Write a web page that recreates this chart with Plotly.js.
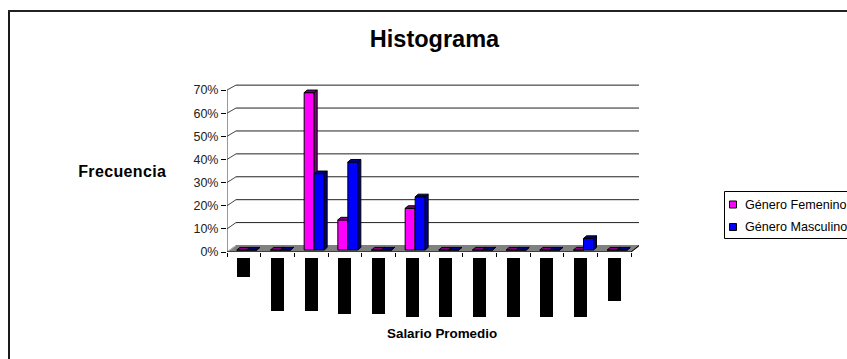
<!DOCTYPE html>
<html>
<head>
<meta charset="utf-8">
<script src="https://cdn.plot.ly/plotly-3.0.1.min.js"></script>
<style>
html,body{margin:0;padding:0;background:#fff;overflow:hidden}
#chart{width:847px;height:359px}
.annotation[data-index="0"] text{letter-spacing:.35px}
</style>
</head>
<body>
<div id="chart"></div>
<script>
// Survey results by salary bracket, share of each gender per bracket
const femenino = [0, 0, 68, 13, 0, 18, 0, 0, 0, 0, 0, 0];
const masculino = [0, 0, 33, 38, 0, 23, 0, 0, 0, 0, 5, 0];
// Lengths of the solid blocks sitting below each bracket
const bloques = [19, 53, 53, 56, 56, 59, 59, 59, 59, 59, 59, 43];
const yTicks = [0, 10, 20, 30, 40, 50, 60, 70];
const seriesNames = ['Género Femenino', 'Género Masculino'];
const seriesColors = ['#ff00ff', '#0000ff'];
const seriesDark = ['#800080', '#000080'];

// Plot box in page pixels
const L = 227, R = 639, T = 83, B = 321, AXIS = 252;
const px = v => (v - L) / (R - L);
const py = v => (B - v) / (B - T);

// Perspective parameters, in axis units
const UX = 1 / 33.667;          // one pixel along x
const UY = 1 / 2.314;           // one pixel along y
const wallDx = 9 * UX, wallDy = 6.5 * UY;    // offset of the back wall
const wallScale = 0.99;                      // the back wall is slightly foreshortened
const barW = 10 * UX, barDx = 3 * UX, barDy = 2.6 * UY;   // bar width and depth
const baseY = 2 * UY, shiftX = 3 * UX;     // bars stand slightly in from the floor edge
const xMax = (R - L) * UX, yMax = (AXIS - T) * UY;

const centers = femenino.map((_, i) => i + 0.5);

// Top and side faces of one series, built from its values
function faces(values, dir) {
  const top = {x: [], y: []}, side = {x: [], y: []};
  values.forEach((v, i) => {
    const l = centers[i] + shiftX + (dir < 0 ? -barW : 0), r = l + barW, t = baseY + v;
    top.x.push(l, r, r + barDx, l + barDx, l, null);
    top.y.push(t, t, t + barDy, t + barDy, t, null);
    side.x.push(r, r + barDx, r + barDx, r, r, null);
    side.y.push(baseY, baseY + barDy, t + barDy, t, baseY, null);
  });
  return {top, side};
}

function seriesTraces(values, dir, color, dark, name, xa, ya) {
  const f = faces(values, dir);
  const poly = d => ({
    type: 'scatter', mode: 'lines', x: d.x, y: d.y, xaxis: xa, yaxis: ya,
    fill: 'toself', fillcolor: dark, line: {color: '#000', width: 1},
    hoverinfo: 'skip', showlegend: false
  });
  return [
    {type: 'bar', name, x: centers.map(c => c + shiftX), y: values, base: baseY, xaxis: xa, yaxis: ya,
     width: barW, offset: dir < 0 ? -barW : 0, marker: {color, line: {color: '#000', width: 1}}, showlegend: false},
    poly(f.side), poly(f.top)
  ];
}

const traces = [
  ...seriesTraces(femenino, -1, seriesColors[0], seriesDark[0], seriesNames[0], 'x', 'y'),
  ...seriesTraces(masculino, 1, seriesColors[1], seriesDark[1], seriesNames[1], 'x2', 'y2'),
  {type: 'bar', x: centers, y: bloques, base: 6, xaxis: 'x3', yaxis: 'y3', width: 13 * UX,
   marker: {color: '#000', line: {width: 0}}, showlegend: false, hoverinfo: 'skip'}
];

const shapes = [];
const line = (x0, y0, x1, y1, color, width) => shapes.push({
  type: 'line', xref: 'x', yref: 'y', x0, y0, x1, y1, layer: 'below', line: {color, width: width || 1}
});
// Floor
shapes.push({type: 'path', xref: 'x', yref: 'y', layer: 'below', fillcolor: '#808080', line: {color: '#808080', width: 1},
  path: `M0,0 L12,0 L${12 + wallDx},${wallDy} L${wallDx},${wallDy} Z`});
// Back wall gridlines and their short side connectors
yTicks.forEach(t => {
  const wy = t * wallScale + wallDy;
  line(wallDx, wy, xMax, wy, t === 0 ? '#808080' : '#222');
  line(0, t, wallDx, wy, t === 0 ? '#bbb' : '#444');
});
// Axis lines
line(0, 0, 0, 70, '#333');
line(0, 0, 12, 0, '#000');
line(12, 0, xMax, wallDy, '#000');

// Frame: left and top rules of the chart area
const framePaper = (x0, y0, x1, y1, color, width) => shapes.push({
  type: 'line', xref: 'paper', yref: 'paper', layer: 'below',
  x0: px(x0), y0: py(y0), x1: px(x1), y1: py(y1), line: {color, width}
});
framePaper(9, 10.5, 9, 359, '#1a1a1a', 2);
framePaper(8, 11, 847, 11, '#222', 2);

// Legend box, running past the right page edge
const font = {family: '"Liberation Sans", Arial, sans-serif', color: '#000'};
shapes.push({type: 'rect', xref: 'paper', yref: 'paper', layer: 'above',
  x0: px(724.5), x1: px(870), y0: py(238.5), y1: py(191.5), line: {color: '#000', width: 1}, fillcolor: '#fff'});
const legendRows = [204.5, 227];
const legendNotes = seriesNames.map((name, i) => {
  shapes.push({type: 'rect', xref: 'paper', yref: 'paper', layer: 'above',
    x0: px(729.5), x1: px(736.5), y0: py(legendRows[i] + 3.5), y1: py(legendRows[i] - 3.5),
    fillcolor: seriesColors[i], line: {color: '#000', width: 1}});
  return {text: name, xref: 'paper', yref: 'paper', x: px(744), y: py(legendRows[i]),
    showarrow: false, xanchor: 'left', yanchor: 'middle', xshift: -1, font: {...font, size: 12.6}};
});

const split = (B - AXIS) / (B - T);
const hidden = {visible: false, fixedrange: true};

const layout = {
  width: 847, height: 359,
  margin: {l: L, r: 847 - R, t: T, b: 359 - B, pad: 0, autoexpand: false},
  paper_bgcolor: '#fff', plot_bgcolor: 'rgba(0,0,0,0)',
  barmode: 'overlay', bargap: 0,
  font: {...font, size: 12},
  title: {text: '<b>Histograma</b>', x: 434.5 / 847, xanchor: 'center', y: 1 - 39 / 359, yanchor: 'middle',
          font: {...font, size: 23.5}},
  xaxis: {domain: [0, 1], range: [0, xMax], anchor: 'y', tickmode: 'array', tickvals: [0,1,2,3,4,5,6,7,8,9,10,11,12],
          ticks: 'outside', ticklen: 4, tickcolor: '#000', showticklabels: false, showgrid: false, zeroline: false, showline: false, fixedrange: true},
  yaxis: {domain: [split, 1], range: [0, yMax], anchor: 'x', tickmode: 'array', tickvals: yTicks,
          ticktext: yTicks.map(t => t + '%'), ticks: 'outside', ticklen: 5, tickcolor: '#000',
          tickfont: {...font, size: 12.5, color: '#222'}, showgrid: false, zeroline: false, showline: false, fixedrange: true},
  xaxis2: {...hidden, overlaying: 'x', range: [0, xMax], anchor: 'y2'},
  yaxis2: {...hidden, overlaying: 'y', domain: [split, 1], range: [0, yMax], anchor: 'x2'},
  xaxis3: {...hidden, domain: [0, 1], range: [0, xMax], anchor: 'y3'},
  yaxis3: {...hidden, domain: [0, split], range: [B - AXIS, 0], anchor: 'x3'},
  shapes,
  annotations: [
    {text: '<b>Frecuencia</b>', xref: 'paper', yref: 'paper', x: px(122.5), y: py(171),
     showarrow: false, xanchor: 'center', yanchor: 'middle', font: {...font, size: 16}},
    {text: '<b>Salario Promedio</b>', xref: 'paper', yref: 'paper', x: px(442), y: py(333),
     showarrow: false, xanchor: 'center', yanchor: 'middle', font: {...font, size: 13.4}},
    ...legendNotes
  ],
  showlegend: false
};

Plotly.newPlot('chart', traces, layout, {displayModeBar: false, staticPlot: true});
</script>
</body>
</html>
